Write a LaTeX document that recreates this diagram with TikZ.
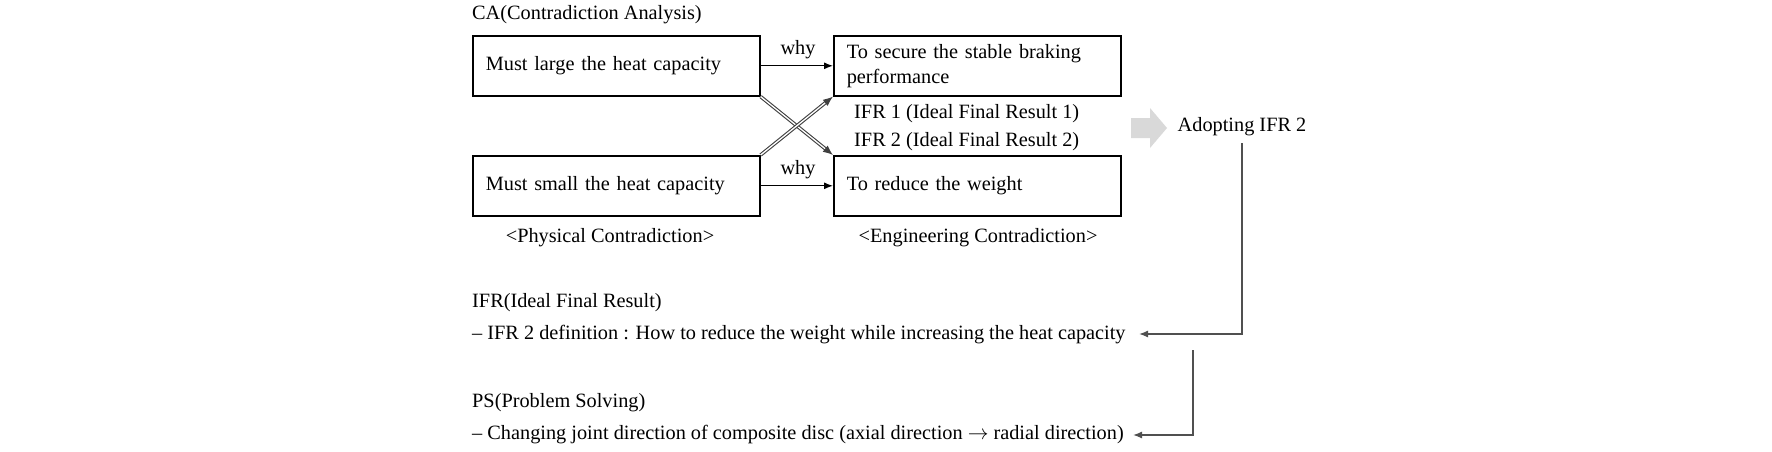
\documentclass[tikz,border=0pt]{standalone}
\usepackage{fontspec}
\setmainfont{Liberation Serif}
\usetikzlibrary{arrows.meta}
\definecolor{conncol}{HTML}{505050}
\definecolor{crosscol}{HTML}{404040}
\definecolor{bigarrow}{HTML}{D9D9D9}
\tikzset{
  txt/.style={anchor=west, inner sep=0pt},
  ctxt/.style={inner sep=0pt},
  box/.style={draw, line width=1.6pt, anchor=north west, minimum width=287pt, minimum height=60pt,
              text width=261pt, inner xsep=13pt, align=left},
  arr/.style={line width=1.1pt, -{Latex[length=9pt,width=7pt]}},
  crossarr/.style={draw=crosscol, line width=1.1pt, double=white, double distance=1.3pt,
                   -{Latex[length=10pt,width=8pt]}},
  conn/.style={draw=conncol, line width=1.3pt, -{Latex[length=9pt,width=7pt]}}
}
\begin{document}
\begin{tikzpicture}[x=1pt,y=-1pt, font=\fontsize{20.3}{25}\selectfont]
\useasboundingbox (0,0) rectangle (1772,452);

\node[txt] (ca) at (472,15) {CA(Contradiction Analysis)};

\node[box] (b1) at (472,35) {Must large the heat capacity};
\node[box] (b2) at (833,35) {To secure the stable braking\\performance};
\node[box] (b3) at (472,155) {Must small the heat capacity};
\node[box] (b4) at (833,155) {To reduce the weight};

\node[ctxt] (why1) at (798,50) {why};
\node[ctxt] (why2) at (798,170) {why};
\draw[arr] (b1.east) -- (b2.west);
\draw[arr] (b3.east) -- (b4.west);

\draw[crossarr] (b1.south east) -- (b4.north west);
\draw[crossarr] (b3.north east) -- (b2.south west);

\node[txt] (ifr1) at (854,114) {IFR 1 (Ideal Final Result 1)};
\node[txt] (ifr2) at (854,142) {IFR 2 (Ideal Final Result 2)};

\node[ctxt] (pc) at (610,238) {<Physical Contradiction>};
\node[ctxt] (ec) at (978,238) {<Engineering Contradiction>};

\fill[bigarrow] (1131,118) -- (1150,118) -- (1150,108) -- (1167,128) -- (1150,148) -- (1150,138) -- (1131,138) -- cycle;

\node[ctxt, inner ysep=7pt] (adopt) at (1242,127) {Adopting IFR 2};

\node[txt] (ifrh) at (472,303) {IFR(Ideal Final Result)};
\node[txt] (ifrdef) at (472,335) {– IFR 2 definition : How to reduce the weight while increasing the heat capacity};
\node[txt] (psh) at (472,403) {PS(Problem Solving)};
\node[txt] (psl) at (472,435) {– Changing joint direction of composite disc (axial direction $\rightarrow$ radial direction)};

\coordinate (c1) at (1139,334);
\coordinate (c2start) at (1193,350);
\coordinate (c2) at (1133,435);

\draw[conn] (adopt.south) |- (c1);
\draw[conn] (c2start) |- (c2);
\end{tikzpicture}
\end{document}
